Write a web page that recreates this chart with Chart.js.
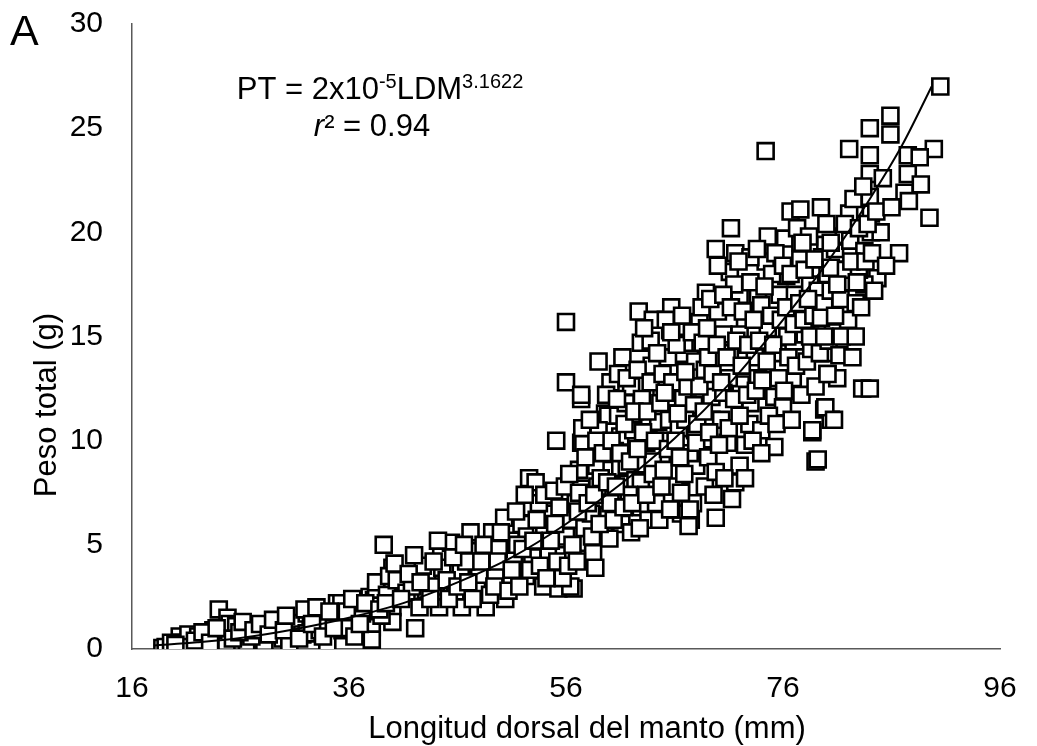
<!DOCTYPE html>
<html>
<head>
<meta charset="utf-8">
<script src="https://cdn.jsdelivr.net/npm/chart.js@4.4.1/dist/chart.umd.min.js"></script>
<style>
  html, body { margin: 0; padding: 0; background: #fff; }
  #wrap { width: 1037px; height: 746px; }
</style>
</head>
<body>
<div id="wrap"><canvas id="lwChart" width="1037" height="746"></canvas></div>
<script>
// Peso total (g) vs Longitud dorsal del manto (mm)
const samples = [
  [18.8,0.05],[19.1,0.1],[20.4,0.6],[20.6,0.3],[21.2,0.7],[21.3,0.1],[22.1,0.2],[22.1,0.6],[22.9,0.15],[22.9,0.5],
  [24.0,1.9],[24.8,1.5],[24.1,0.7],[24.5,0.2],[24.7,0.35],[25.0,1.2],[25.6,1.1],[26.6,0.35],[26.6,0.8],[27.5,1.15],
  [28.0,0.45],[28.2,0.35],[29.3,1.05],[29.9,0.5],[31.0,1.05],[31.0,1.25],[31.7,0.7],[32.1,0.75],[32.1,1.7],[32.5,1.55],
  [32.8,1.6],[33.3,0.9],[34.0,0.3],[34.4,1.4],[34.9,2.2],[35.3,2.2],[35.4,0.9],[35.4,1.4],[36.8,2.0],[36.8,1.4],
  [37.9,2.5],[38.0,0.8],[38.1,1.05],[38.1,0.45],[38.3,2.35],[38.5,2.85],[38.5,3.2],[39.2,5.0],[40.0,3.9],[40.0,3.2],
  [40.0,2.0],[40.0,1.3],[23.5,0.9],[27.0,0.6],[30.5,0.3],[33.8,1.2],[36.0,1.0],[37.2,1.7],[39.0,1.6],[39.5,2.6],
  [19.6,0.3],[20.0,0.2],[21.8,0.4],[22.5,0.8],[23.2,0.3],[23.8,1.0],[25.3,0.5],[25.9,0.8],[26.2,1.3],[27.2,0.9],
  [27.8,1.2],[28.6,0.7],[29.0,1.4],[30.0,0.9],[30.2,1.6],[31.4,0.5],[31.9,1.9],[32.6,1.2],[33.0,2.0],[33.6,0.6],
  [34.2,1.8],[34.6,1.0],[35.8,1.8],[36.3,2.4],[36.5,0.6],[37.0,1.2],[37.5,2.2],[38.8,1.9],[39.4,2.2],[39.7,3.5],
  [40.2,4.1],[40.4,3.3],[41.3,2.7],[42.1,1.0],[42.5,2.0],[43.2,3.5],[43.1,2.8],[44.3,2.0],[44.5,4.6],[45.4,5.1],
  [44.6,3.9],[45.8,2.6],[46.3,3.7],[46.4,2.0],[47.2,5.6],[47.5,4.7],[48.6,2.0],[48.0,3.5],[48.9,4.5],[49.2,5.6],
  [50.3,6.3],[50.4,4.1],[50.9,5.2],[50.5,3.2],[50.4,2.4],[51.2,4.3],[52.3,3.5],[51.9,6.0],[52.6,8.2],[52.6,6.8],
  [52.4,5.4],[53.2,8.0],[53.7,5.9],[53.9,3.0],[54.4,4.7],[54.7,6.5],[55.1,10.0],[55.5,3.8],[55.3,2.9],[56.7,2.9],
  [56.4,3.0],[56.0,5.4],[56.9,7.0],[57.4,7.7],[57.2,8.6],[57.4,9.9],[58.3,9.9],[58.7,8.8],[58.1,6.3],[57.9,5.1],
  [58.5,4.6],[58.7,3.9],[59.6,11.3],[59.3,7.2],[57.4,12.0],
  [41.8,3.0],[42.8,4.0],[44.0,3.0],[45.0,3.3],[46.8,4.2],[47.8,2.8],[49.5,3.6],[49.8,4.8],[51.5,5.0],[52.9,4.4],
  [53.5,7.0],[54.0,5.5],[55.0,6.0],[55.8,4.5],[56.5,6.2],[57.7,5.8],[58.9,7.8],[59.5,5.6],[59.9,6.4],
  [40.8,2.4],[41.5,3.6],[42.0,4.5],[42.6,3.2],[43.5,2.4],[43.8,4.2],[44.2,5.2],[45.2,2.4],[45.6,4.4],[46.0,3.0],
  [46.6,5.0],[47.0,3.2],[47.4,2.4],[48.2,4.2],[48.4,5.0],[49.0,2.6],[49.4,3.0],[49.7,4.2],[50.0,5.6],[50.7,2.8],
  [51.0,3.8],[51.4,6.6],[51.7,3.0],[52.0,4.8],[52.2,7.4],[52.7,3.8],[53.0,5.2],[53.3,6.2],[53.6,4.0],[54.0,7.4],
  [54.2,3.4],[54.6,5.2],[54.9,7.6],[55.2,4.2],[55.4,6.8],[55.7,3.4],[55.9,7.8],[56.2,4.0],[56.3,8.4],[56.6,5.0],
  [56.0,15.7],[56.0,12.8],[57.4,12.2],[57.6,9.9],[58.8,8.8],[59.9,11.2],[60.1,12.8],[60.8,11.2],[61.0,10.2],[60.8,13.2],
  [60.2,8.6],[61.0,8.7],[62.0,12.6],[62.7,16.2],[62.9,14.7],[63.8,14.8],[63.9,13.6],[65.2,12.4],[63.6,10.8],[63.4,9.9],
  [61.6,8.8],[62.4,8.1],[63.6,8.1],[64.5,10.9],[65.1,10.0],[66.1,11.3],[66.3,9.2],[65.7,16.4],[65.6,15.3],[65.4,14.0],
  [67.0,13.4],[67.1,14.7],[68.3,15.7],[68.4,14.7],[68.9,14.0],[68.9,17.1],[67.9,10.5],[66.6,7.6],[66.6,6.5],[65.6,7.1],
  [62.9,8.0],[62.9,6.8],[60.8,6.8],[60.1,7.0],[57.2,7.5],[58.3,6.5],[61.1,6.0],[63.6,6.2],[65.7,6.7],[67.5,6.2],
  [68.8,7.8],[69.1,9.3],[69.4,11.0],[69.4,12.1],
  [59.0,10.5],[60.5,9.5],[61.5,11.8],[62.2,10.5],[63.0,12.0],[64.0,9.0],[64.8,12.5],[61.8,7.4],[60.0,5.3],[62.0,5.6],
  [64.3,7.0],[64.0,15.8],[66.8,12.0],[67.8,11.7],[68.0,8.8],[59.0,13.8],[61.2,14.0],
  [57.0,4.2],[57.1,6.6],[57.5,10.6],[57.8,9.2],[58.0,7.0],[58.2,11.0],[58.4,5.4],[58.6,7.4],[58.8,10.0],[59.1,6.0],
  [59.2,8.2],[59.4,9.4],[59.7,12.2],[59.8,8.0],[60.2,10.0],[60.4,6.2],[60.6,7.8],[60.7,12.0],[61.0,9.4],[61.3,6.8],
  [61.4,10.8],[61.6,13.0],[61.9,9.0],[62.1,7.0],[62.3,11.4],[62.6,9.6],
  [62.6,13.4],[62.8,5.8],[63.1,10.4],[63.2,15.4],[63.4,7.4],[63.5,11.4],[63.8,12.8],[64.0,8.4],[64.2,10.0],[64.4,14.2],
  [64.6,6.2],[64.7,11.8],[64.9,13.2],[65.0,8.6],[65.2,15.8],[65.4,9.6],[65.5,11.0],[65.8,12.8],[66.0,7.8],[66.2,14.6],
  [66.4,10.6],[66.7,16.0],[66.9,8.4],[67.0,11.0],[67.2,12.6],[67.4,9.4],[67.6,15.2],[67.7,7.0],[67.9,13.8],[68.1,10.8],
  [68.3,12.6],[68.5,16.4],[68.7,11.4],[68.8,13.4],
  [76.7,21.0],[79.5,21.2],[71.2,20.2],[69.8,19.2],[71.6,19.0],[74.6,19.8],[76.2,19.7],[77.6,19.5],[74.4,18.6],[76.3,17.9],
  [77.6,18.7],[71.1,18.1],[79.9,19.4],[80.1,18.0],[72.0,17.0],[73.7,17.0],[75.7,17.0],[77.1,17.0],[72.5,15.8],[74.6,15.4],
  [78.3,16.3],[79.6,15.6],[65.7,15.2],[68.6,14.7],[70.5,15.1],[72.0,15.1],[76.4,15.0],[78.0,15.1],[79.8,14.2],[80.1,13.2],
  [67.0,13.3],[69.1,14.0],[71.1,14.2],[73.4,14.0],[75.5,14.2],[76.9,13.0],[65.1,12.3],[72.1,12.7],[73.7,13.0],[75.2,12.1],
  [76.0,11.6],[79.8,11.5],[80.4,11.0],[78.7,10.4],[79.0,9.0],[75.2,9.7],[66.3,11.3],[70.3,11.0],[72.9,10.8],[66.1,10.0],
  [68.0,9.9],[70.9,9.9],[66.5,9.2],[69.1,9.2],[72.0,8.8],[69.8,8.5],[71.6,8.0],[66.6,7.5],[64.8,7.8],[65.6,6.7],
  [67.4,6.7],[69.8,6.3],[67.3,5.9],[74.4,23.9],
  [70.0,16.2],[71.0,13.0],[73.0,11.8],[74.0,16.5],[75.0,18.0],[77.5,14.0],[78.5,17.5],[70.5,12.3],[72.5,9.8],[74.0,10.5],
  [71.5,17.5],[73.0,18.8],
  [69.0,15.4],[69.2,10.4],[69.3,16.8],[69.5,13.2],[69.6,7.4],[69.9,14.6],[70.0,18.4],[70.1,9.8],[70.3,12.8],[70.5,17.0],
  [70.6,8.2],[70.8,14.0],[71.0,10.6],[71.2,16.4],[71.3,7.2],[71.5,12.0],[71.7,14.8],[71.9,18.6],[72.0,11.2],[72.2,13.6],
  [72.3,16.2],[72.5,8.2],[72.7,12.2],[72.8,14.6],[73.0,17.6],[73.2,10.0],[73.3,15.8],[73.5,12.4],[73.6,19.2],[73.8,14.8],
  [74.0,9.4],[74.1,12.9],[74.3,17.4],[74.5,13.8],[74.7,11.2],[74.9,16.0],
  [75.1,14.6],[75.3,19.0],[75.4,10.8],[75.6,13.0],[75.8,15.8],[76.0,18.4],[76.1,12.4],[76.3,16.4],[76.5,14.0],[76.7,18.0],
  [76.8,11.0],[77.0,15.6],[77.2,13.6],[77.3,20.2],[77.5,16.6],[77.7,12.2],[77.9,15.8],[78.0,18.2],[78.2,13.8],[78.4,19.8],
  [78.6,14.4],[78.8,16.0],[79.0,12.6],[79.2,17.2],[79.4,14.2],[79.6,18.8],[79.8,16.6],[80.0,20.4],[80.2,14.8],[80.4,17.2],
  [80.6,15.2],[80.8,19.2],[81.0,13.0],[81.2,18.2],[81.4,15.0],[81.6,19.8],[81.8,16.2],[82.0,17.6],
  [90.5,27.0],[85.9,25.6],[84.0,25.0],[85.9,24.7],[82.1,24.0],[84.0,23.7],[87.5,23.7],[89.9,24.0],[88.6,23.6],[84.0,22.8],
  [87.5,22.8],[88.7,22.3],[87.2,21.9],[87.6,21.5],[84.0,21.7],[89.5,20.7],[77.6,21.1],[82.1,20.9],[84.1,20.9],[81.7,20.4],
  [84.1,20.0],[85.0,20.0],[80.4,19.5],[82.2,19.6],[83.5,19.1],[86.7,19.0],[77.8,19.5],[78.9,18.7],[80.4,18.3],[81.8,18.2],
  [84.7,17.8],[83.5,17.5],[81.3,16.8],[82.7,16.6],[78.3,16.8],[79.5,15.9],[78.5,15.0],[79.8,15.0],[82.7,15.0],[81.2,14.1],
  [82.4,14.0],[80.1,13.2],[83.3,12.5],[84.0,12.5],[79.9,11.6],[80.7,11.0],[78.7,10.5],[79.2,9.1],
  [81.0,17.5],[82.0,15.8],[80.8,16.0],[83.0,18.2],
  [82.3,18.6],[82.5,21.6],[82.8,17.6],[83.0,20.2],[83.2,16.4],[83.4,22.2],[83.6,18.6],[83.8,20.4],[84.2,19.0],[84.4,17.2],
  [84.6,21.0],[85.2,22.6],[85.5,18.4],[86.0,21.2]
];

// fitted power curve
const trendLDM = [18, 22, 26, 31, 36, 41, 46, 51, 56, 61, 66, 71, 76, 80, 84, 87, 89.7];
const trendPT = [0.17, 0.32, 0.53, 0.95, 1.5, 2.2, 3.2, 4.4, 6.0, 7.9, 10.1, 12.7, 15.8, 18.5, 21.6, 24.2, 27.0];

const xTicks = [16, 36, 56, 76, 96];
const yTicks = [0, 5, 10, 15, 20, 25, 30];

const xTitle = 'Longitud dorsal del manto (mm)';
const yTitle = 'Peso total (g)';
const panelLetter = 'A';
const eqParts = [['PT = 2x10', false], ['-5', true], ['LDM', false], ['3.1622', true]];
const r2Text = ' = 0.94';

const FONT = '"Liberation Sans", Arial, sans-serif';

// text drawn on top: panel letter, axis titles, equation
const textPlugin = {
  id: 'textPlugin',
  afterDraw(chart) {
    const ctx = chart.ctx;
    ctx.save();
    ctx.fillStyle = '#000';
    ctx.textBaseline = 'alphabetic';

    ctx.font = '43px ' + FONT;
    ctx.textAlign = 'left';
    ctx.fillText(panelLetter, 10, 45);

    ctx.font = '31px ' + FONT;
    ctx.textAlign = 'center';
    ctx.fillText(xTitle, 587, 738);

    ctx.save();
    ctx.translate(56, 405);
    ctx.rotate(-Math.PI / 2);
    ctx.fillText(yTitle, 0, 0);
    ctx.restore();

    // equation line with superscripts
    ctx.textAlign = 'left';
    let total = 0;
    eqParts.forEach(([t, sup]) => {
      ctx.font = (sup ? '20px ' : '31px ') + FONT;
      total += ctx.measureText(t).width;
    });
    let x = 380 - total / 2;
    eqParts.forEach(([t, sup]) => {
      ctx.font = (sup ? '20px ' : '31px ') + FONT;
      ctx.fillText(t, x, sup ? 88 : 99);
      x += ctx.measureText(t).width;
    });

    ctx.font = 'italic 31px ' + FONT;
    const rW = ctx.measureText('r').width;
    ctx.font = '31px ' + FONT;
    const restW = ctx.measureText('²' + r2Text).width;
    let x2 = 372 - (rW + restW) / 2;
    ctx.font = 'italic 31px ' + FONT;
    ctx.fillText('r', x2, 136);
    ctx.font = '31px ' + FONT;
    ctx.fillText('²' + r2Text, x2 + rW, 136);
    ctx.restore();
  }
};

new Chart(document.getElementById('lwChart'), {
  type: 'scatter',
  data: {
    datasets: [
      {
        label: 'Ajuste',
        data: trendLDM.map((v, i) => ({ x: v, y: trendPT[i] })),
        showLine: true,
        borderColor: '#000',
        borderWidth: 2,
        pointRadius: 0,
        cubicInterpolationMode: 'monotone',
        fill: false,
        order: 0
      },
      {
        label: 'Peso total',
        data: samples.map(p => ({ x: p[0], y: p[1] })),
        pointStyle: 'rect',
        pointRadius: 11.3,
        pointBorderWidth: 2.6,
        pointBorderColor: '#000',
        pointBackgroundColor: '#fff',
        order: 1
      }
    ]
  },
  options: {
    responsive: false,
    animation: false,
    events: [],
    layout: { padding: { top: 24, right: 37, bottom: 0, left: 0 } },
    plugins: { legend: { display: false }, tooltip: { enabled: false } },
    scales: {
      x: {
        type: 'linear',
        min: 16,
        max: 96,
        afterBuildTicks: s => { s.ticks = xTicks.map(v => ({ value: v })); },
        afterFit: s => { s.height = 97; s.paddingLeft = 0; s.paddingRight = 0; },
        grid: { display: false, drawTicks: false },
        border: { display: true, color: '#595959', width: 1.5 },
        ticks: { color: '#000', font: { family: FONT, size: 30 }, padding: 22, maxRotation: 0 }
      },
      y: {
        min: 0,
        max: 30,
        afterBuildTicks: s => { s.ticks = yTicks.map(v => ({ value: v })); },
        afterFit: s => { s.width = 132; s.paddingTop = 0; s.paddingBottom = 0; },
        grid: { display: false, drawTicks: false },
        border: { display: true, color: '#595959', width: 1.5 },
        ticks: { color: '#000', font: { family: FONT, size: 30 }, padding: 29 }
      }
    }
  },
  plugins: [textPlugin]
});
</script>
</body>
</html>
